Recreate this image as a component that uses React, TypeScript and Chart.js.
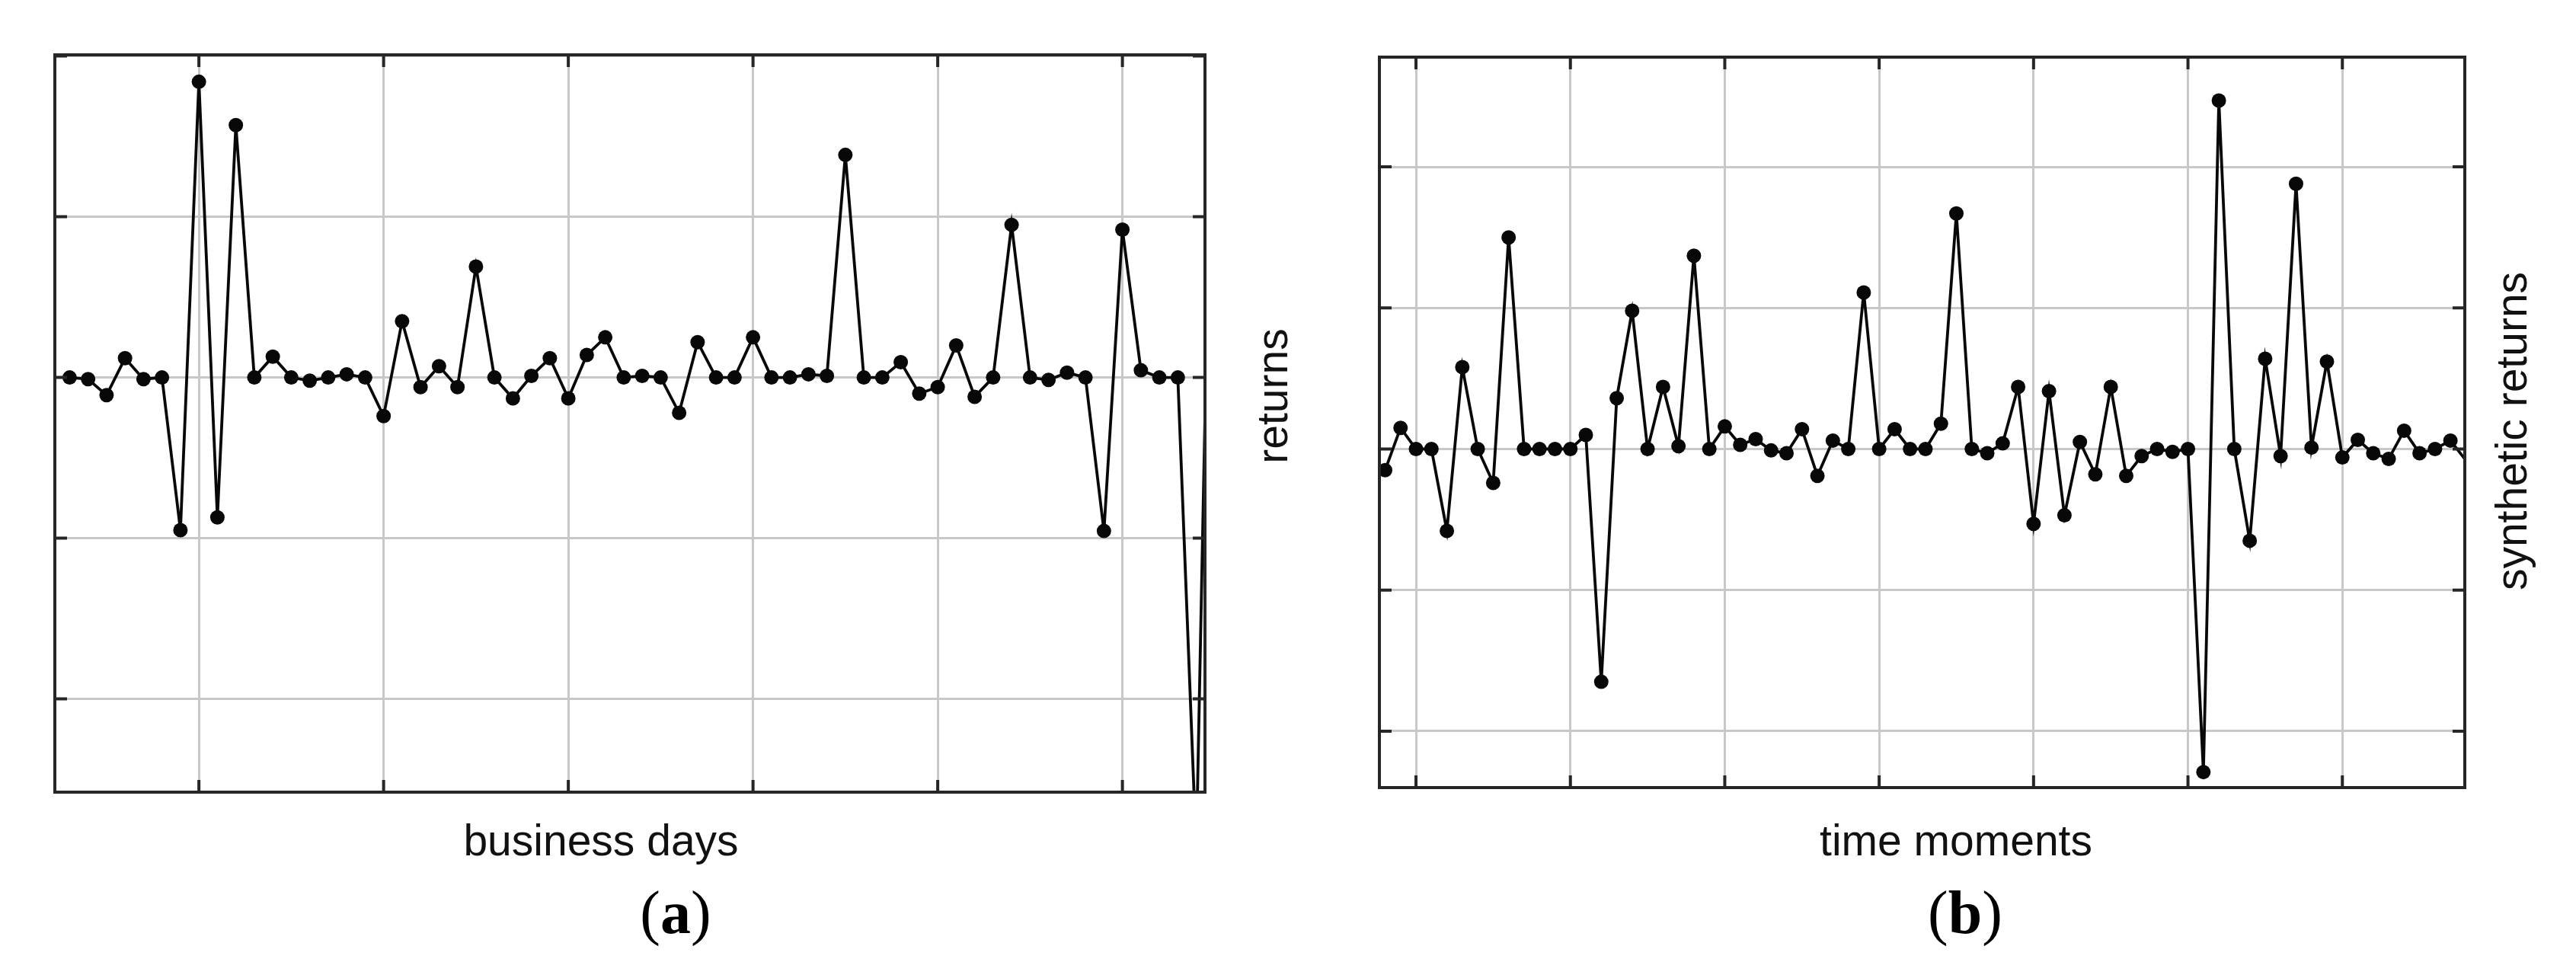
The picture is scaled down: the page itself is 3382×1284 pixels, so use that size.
import React, { useEffect, useRef } from "react";
import { Chart, registerables } from "chart.js";

Chart.register(...registerables);

// Panel (a): observed returns, one value per business day (index 0..62)
const returnsA: number[] = [
  0, -0.01, -0.11, 0.12, -0.01, 0, -0.95, 1.84, -0.87, 1.57,
  0, 0.13, 0, -0.02, 0, 0.02, 0, -0.24, 0.35, -0.06,
  0.07, -0.06, 0.69, 0, -0.13, 0.01, 0.12, -0.13, 0.14, 0.25,
  0, 0.01, 0, -0.22, 0.22, 0, 0, 0.25, 0, 0,
  0.02, 0.01, 1.385, 0, 0, 0.095, -0.1, -0.06, 0.2, -0.12,
  0, 0.95, 0, -0.015, 0.03, 0, -0.955, 0.92, 0.045, 0,
  0, -2.95, 2.8,
];

// Panel (b): synthetic returns, one value per time moment (index 0..70)
const returnsB: number[] = [
  -0.15, 0.15, 0, 0, -0.58, 0.58, 0, -0.24, 1.5, 0,
  0, 0, 0, 0.1, -1.65, 0.36, 0.98, 0, 0.44, 0.02,
  1.37, 0, 0.16, 0.03, 0.07, -0.01, -0.03, 0.14, -0.19, 0.06,
  0, 1.11, 0, 0.14, 0, 0, 0.18, 1.67, 0, -0.03,
  0.04, 0.44, -0.53, 0.41, -0.47, 0.05, -0.18, 0.44, -0.19, -0.05,
  0, -0.02, 0, -2.29, 2.47, 0, -0.65, 0.64, -0.05, 1.88,
  0.01, 0.62, -0.06, 0.065, -0.03, -0.07, 0.13, -0.03, 0, 0.06,
  -0.08,
];

// grid / tick positions (no tick labels are shown in the figure)
const gridXA: number[] = [7, 17, 27, 37, 47, 57];
const gridYA: number[] = [-2, -1, 0, 1, 2];
const gridXB: number[] = [2, 12, 22, 32, 42, 52, 62];
const gridYB: number[] = [-2, -1, 0, 1, 2];

const LINE = "#080808";
const FRAME = "#262626";
const GRID = "#c8c8c8";
const PAD = 12;
const TICK = 16;
const DOT = 9.5;

const SANS = '"Liberation Sans", Arial, Helvetica, sans-serif';
const SERIF = '"Liberation Serif", "Times New Roman", Times, serif';

type PanelProps = {
  values: number[];
  gridX: number[];
  gridY: number[];
  xMin: number;
  xMax: number;
  yMin: number;
  yMax: number;
  left: number;
  top: number;
  width: number;
  height: number;
};

const framePlugin = {
  id: "frameTicks",
  afterDraw(chart: any) {
    const { ctx, chartArea } = chart;
    const { left, right, top, bottom } = chartArea;
    const xs = chart.scales.x;
    const ys = chart.scales.y;
    const gx: number[] = chart.options.plugins.frameTicks.gridX;
    const gy: number[] = chart.options.plugins.frameTicks.gridY;
    ctx.save();
    ctx.strokeStyle = FRAME;
    ctx.lineWidth = 4;
    ctx.lineCap = "butt";
    ctx.beginPath();
    gx.forEach((v) => {
      const p = xs.getPixelForValue(v);
      ctx.moveTo(p, bottom);
      ctx.lineTo(p, bottom - TICK);
      ctx.moveTo(p, top);
      ctx.lineTo(p, top + TICK);
    });
    gy.forEach((v) => {
      const p = ys.getPixelForValue(v);
      ctx.moveTo(left, p);
      ctx.lineTo(left + TICK, p);
      ctx.moveTo(right, p);
      ctx.lineTo(right - TICK, p);
    });
    ctx.stroke();
    ctx.strokeRect(left, top, right - left, bottom - top);
    ctx.restore();
  },
};

function Panel(props: PanelProps) {
  const ref = useRef<HTMLCanvasElement | null>(null);
  useEffect(() => {
    if (!ref.current) return;
    const data = props.values.map((v, i) => ({ x: i, y: v }));
    const chart = new Chart(ref.current, {
      type: "line",
      data: {
        datasets: [
          {
            data,
            borderColor: LINE,
            backgroundColor: LINE,
            borderWidth: 3.8,
            pointBackgroundColor: LINE,
            pointBorderColor: LINE,
            pointBorderWidth: 0,
            pointRadius: (c: any) => {
              const r = c.raw;
              if (!r) return DOT;
              return r.x >= props.xMin && r.x <= props.xMax && r.y >= props.yMin && r.y <= props.yMax ? DOT : 0;
            },
            tension: 0,
            fill: false,
            clip: 0,
          } as any,
        ],
      },
      options: {
        responsive: false,
        maintainAspectRatio: false,
        devicePixelRatio: 1,
        animation: false,
        events: [],
        layout: { padding: PAD },
        plugins: {
          legend: { display: false },
          tooltip: { enabled: false },
          frameTicks: { gridX: props.gridX, gridY: props.gridY },
        } as any,
        scales: {
          x: {
            type: "linear",
            min: props.xMin,
            max: props.xMax,
            ticks: { display: false },
            grid: { color: GRID, lineWidth: 3, drawTicks: false },
            border: { display: false },
            afterBuildTicks: (s: any) => {
              s.ticks = props.gridX.map((v) => ({ value: v }));
            },
          },
          y: {
            type: "linear",
            min: props.yMin,
            max: props.yMax,
            ticks: { display: false },
            grid: { color: GRID, lineWidth: 3, drawTicks: false },
            border: { display: false },
            afterBuildTicks: (s: any) => {
              s.ticks = props.gridY.map((v) => ({ value: v }));
            },
          },
        },
      },
      plugins: [framePlugin],
    });
    return () => chart.destroy();
  }, []);
  return (
    <canvas
      ref={ref}
      width={props.width}
      height={props.height}
      style={{
        position: "absolute",
        left: props.left,
        top: props.top,
        width: props.width,
        height: props.height,
      }}
    />
  );
}

function HLabel({ text, cx, baseline }: { text: string; cx: number; baseline: number }) {
  const size = 57;
  return (
    <div
      style={{
        position: "absolute",
        left: cx,
        top: baseline - 0.8465 * size,
        transform: "translateX(-50%)",
        fontFamily: SANS,
        fontSize: size,
        lineHeight: `${size}px`,
        whiteSpace: "nowrap",
        color: "#111",
      }}
    >
      {text}
    </div>
  );
}

function VLabel({ text, cx, cy }: { text: string; cx: number; cy: number }) {
  const size = 57;
  return (
    <div
      style={{
        position: "absolute",
        left: cx,
        top: cy,
        transform: "translate(-50%, -50%) rotate(-90deg)",
        fontFamily: SANS,
        fontSize: size,
        lineHeight: `${size}px`,
        whiteSpace: "nowrap",
        color: "#111",
      }}
    >
      {text}
    </div>
  );
}

function Caption({ letter, cx, baseline }: { letter: string; cx: number; baseline: number }) {
  const size = 80;
  return (
    <div
      style={{
        position: "absolute",
        left: cx,
        top: baseline - 0.8375 * size,
        transform: "translateX(-50%)",
        fontFamily: SERIF,
        fontSize: size,
        lineHeight: `${size}px`,
        whiteSpace: "nowrap",
        color: "#000",
      }}
    >
      (<b>{letter}</b>)
    </div>
  );
}

export default function App() {
  return (
    <div
      style={{
        position: "absolute",
        left: 0,
        top: 0,
        width: 3382,
        height: 1284,
        background: "#fff",
        overflow: "hidden",
      }}
    >
      <Panel
        values={returnsA}
        gridX={gridXA}
        gridY={gridYA}
        xMin={-0.8}
        xMax={61.47}
        yMin={-2.58}
        yMax={2.0076}
        left={72 - PAD}
        top={72 - PAD}
        width={1510 + 2 * PAD}
        height={968 + 2 * PAD}
      />
      <Panel
        values={returnsB}
        gridX={gridXB}
        gridY={gridYB}
        xMin={-0.37}
        xMax={69.93}
        yMin={-2.4}
        yMax={2.778}
        left={1811 - PAD}
        top={75 - PAD}
        width={1425 + 2 * PAD}
        height={959 + 2 * PAD}
      />
      <HLabel text="business days" cx={789} baseline={1123} />
      <HLabel text="time moments" cx={2568} baseline={1123} />
      <VLabel text="returns" cx={1670} cy={520} />
      <VLabel text="synthetic returns" cx={3297} cy={566} />
      <Caption letter="a" cx={887} baseline={1225} />
      <Caption letter="b" cx={2580} baseline={1225} />
    </div>
  );
}
